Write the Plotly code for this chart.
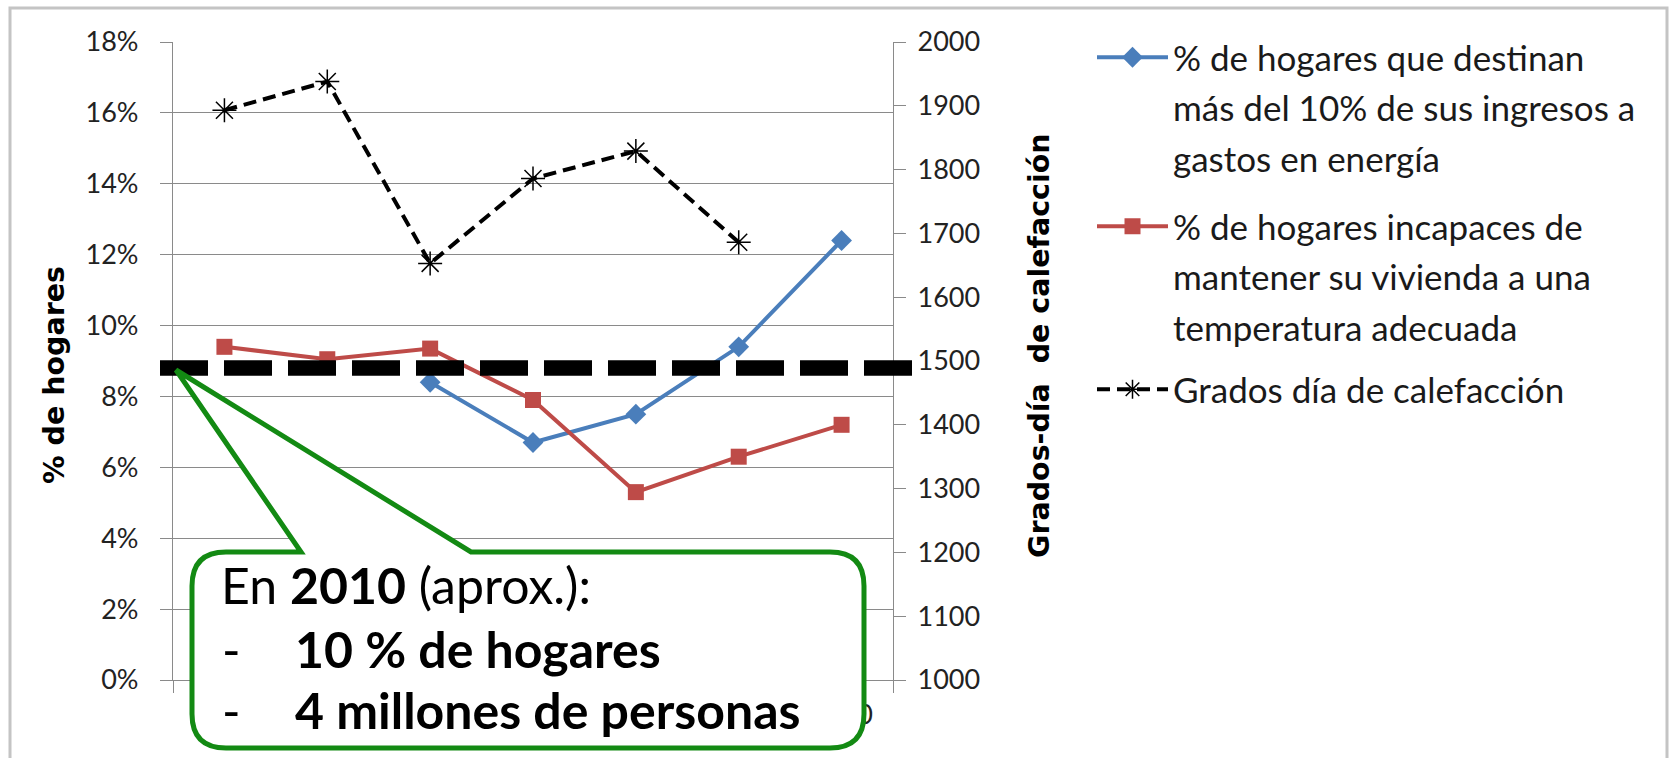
import plotly.graph_objects as go

# ---------------- data ----------------
years = ["2004", "2005", "2006", "2007", "2008", "2009", "2010"]
pct_energy_spend = [None, None, 8.4, 6.7, 7.5, 9.4, 12.4]      # % hogares >10% ingresos en energía
pct_cannot_heat = [9.4, 9.05, 9.35, 7.9, 5.3, 6.3, 7.2]         # % hogares incapaces de mantener temperatura
heating_degree_days = [1893, 1938, 1653, 1786, 1829, 1686, None]  # grados-día de calefacción
ref_level = 8.8  # línea de referencia (~10 % hogares)

name_energy = ["% de hogares que destinan", "más del 10% de sus ingresos a", "gastos en energía"]
name_heat = ["% de hogares incapaces de", "mantener su vivienda a una", "temperatura adecuada"]
name_hdd = ["Grados día de calefacción"]

left_ticks = list(range(0, 19, 2))
left_ticktext = [f"{v}%" for v in left_ticks]
right_ticks = list(range(1000, 2001, 100))

# ---------------- layout geometry ----------------
W, H = 1671, 758
ML, MR, MT, MB = 173, W - 893, 42, H - 680
PW, PH = W - ML - MR, H - MT - MB


def px(x):
    return (x - ML) / PW


def py(y):
    return (H - MB - y) / PH


BLUE = "#4A7EBB"
RED = "#BE4B48"
GRID = "#8A8A8A"
GREEN = "#138A13"
TXT = "Lato, 'Open Sans', sans-serif"
BOLD = "'DejaVu Sans', Verdana, sans-serif"

fig = go.Figure()


def add_series(x, y, names, legend_id, yaxis, line, marker):
    fig.add_trace(go.Scatter(
        x=x, y=y, name=names[0], mode="lines+markers", yaxis=yaxis,
        legend=legend_id, legendgroup=legend_id + "_0",
        line=line, marker=marker,
    ))
    # continuation lines of the (wrapped) legend label
    for i, extra in enumerate(names[1:], start=1):
        fig.add_trace(go.Scatter(
            x=[None], y=[None], name=extra, mode="lines", yaxis=yaxis,
            legend=legend_id, legendgroup=f"{legend_id}_{i}",
            line=dict(width=0, color="rgba(0,0,0,0)"), hoverinfo="skip",
        ))


add_series(years, pct_energy_spend, name_energy, "legend", "y",
           dict(color=BLUE, width=4), dict(symbol="diamond", size=16, color=BLUE))
add_series(years, pct_cannot_heat, name_heat, "legend2", "y",
           dict(color=RED, width=4), dict(symbol="square", size=16, color=RED))
add_series(years, heating_degree_days, name_hdd, "legend3", "y2",
           dict(color="black", width=4, dash="13px,7px"),
           dict(symbol="asterisk-open", size=20, color="black", line=dict(color="black", width=1.5)))

legend_common = dict(
    font=dict(family=TXT, size=35, color="#1a1a1a"),
    bgcolor="rgba(0,0,0,0)", borderwidth=0,
    xanchor="left", yanchor="top", valign="middle",
    itemwidth=71, itemclick=False, itemdoubleclick=False,
    tracegroupgap=2,
)

# callout geometry (pixels)
bx0, bx1, by0, by1, r = 192, 864, 552, 748, 34
tipx, tipy = 176, 370
pb0, pb1 = 301, 471


def P(x, y):
    return f"{px(x):.5f},{py(y):.5f}"


callout = (
    f"M{P(bx0 + r, by0)} L{P(pb0, by0)} L{P(tipx, tipy)} L{P(pb1, by0)} "
    f"L{P(bx1 - r, by0)} Q{P(bx1, by0)} {P(bx1, by0 + r)} "
    f"L{P(bx1, by1 - r)} Q{P(bx1, by1)} {P(bx1 - r, by1)} "
    f"L{P(bx0 + r, by1)} Q{P(bx0, by1)} {P(bx0, by1 - r)} "
    f"L{P(bx0, by0 + r)} Q{P(bx0, by0)} {P(bx0 + r, by0)} Z"
)

shapes = [
    # outer frame
    dict(type="rect", xref="paper", yref="paper",
         x0=px(10), x1=px(1667), y0=py(775), y1=py(8),
         line=dict(color="#C4C4C4", width=3), fillcolor="rgba(0,0,0,0)", layer="below"),
    # thick dashed reference line
    dict(type="line", xref="paper", yref="y", x0=px(160), x1=px(912),
         y0=ref_level, y1=ref_level,
         line=dict(color="black", width=15.5, dash="48px,16px"), layer="above"),
    # callout
    dict(type="path", xref="paper", yref="paper", path=callout,
         fillcolor="white", line=dict(color=GREEN, width=5), layer="above"),
]

big = 50
annotations = [
    dict(text="% de hogares", textangle=-90, x=px(54), y=py(375),
         font=dict(family=BOLD, size=28.5, color="black", weight="bold")),
    dict(text="Grados-día  de calefacción", textangle=-90, x=px(1039), y=py(346),
         font=dict(family=BOLD, size=28.5, color="black", weight="bold")),
    dict(text="En <b>2010</b> (aprox.):", x=px(219), y=py(585), xanchor="left",
         font=dict(family=TXT, size=big, color="black")),
    dict(text="-", x=px(220), y=py(649), xanchor="left",
         font=dict(family=TXT, size=big, color="black")),
    dict(text="<b>10 % de hogares</b>", x=px(293), y=py(649), xanchor="left",
         font=dict(family=TXT, size=big, color="black")),
    dict(text="-", x=px(220), y=py(710), xanchor="left",
         font=dict(family=TXT, size=big, color="black")),
    dict(text="<b>4 millones de personas</b>", x=px(293), y=py(710), xanchor="left",
         font=dict(family=TXT, size=big, color="black")),
]
for a in annotations:
    a.update(xref="paper", yref="paper", showarrow=False, yanchor="middle")
    a.setdefault("xanchor", "center")

tickfont = dict(family=TXT, size=27, color="#222222")

fig.update_layout(
    width=W, height=H,
    margin=dict(l=ML, r=MR, t=MT, b=MB, autoexpand=False),
    paper_bgcolor="white", plot_bgcolor="white",
    showlegend=True,
    legend=dict(legend_common, x=px(1092), y=py(28)),
    legend2=dict(legend_common, x=px(1092), y=py(197)),
    legend3=dict(legend_common, x=px(1092), y=py(360)),
    xaxis=dict(
        type="category", categoryorder="array", categoryarray=years,
        range=[-0.5, 6.5], showgrid=False, tickson="boundaries",
        ticks="outside", ticklen=12, tickcolor=GRID, tickwidth=1.3,
        showline=True, linecolor=GRID, linewidth=1.3,
        tickfont=tickfont, ticklabelstandoff=10,
    ),
    yaxis=dict(
        range=[0, 18], tickmode="array", tickvals=left_ticks, ticktext=left_ticktext,
        showgrid=True, gridcolor=GRID, gridwidth=1.3,
        ticks="outside", ticklen=12, tickcolor=GRID, tickwidth=1.3,
        showline=True, linecolor=GRID, linewidth=1.3,
        zeroline=False, tickfont=tickfont, ticklabelstandoff=16,
    ),
    yaxis2=dict(
        range=[1000, 2000], tickmode="array", tickvals=right_ticks,
        overlaying="y", side="right",
        showgrid=False, ticks="outside", ticklen=12, tickcolor=GRID, tickwidth=1.3,
        showline=True, linecolor=GRID, linewidth=1.3, zeroline=False,
        tickfont=tickfont, ticklabelstandoff=6,
    ),
    shapes=shapes,
    annotations=annotations,
)

fig.write_html("out.html", config={"displayModeBar": False},
               post_script="document.body.style.margin='0';")
